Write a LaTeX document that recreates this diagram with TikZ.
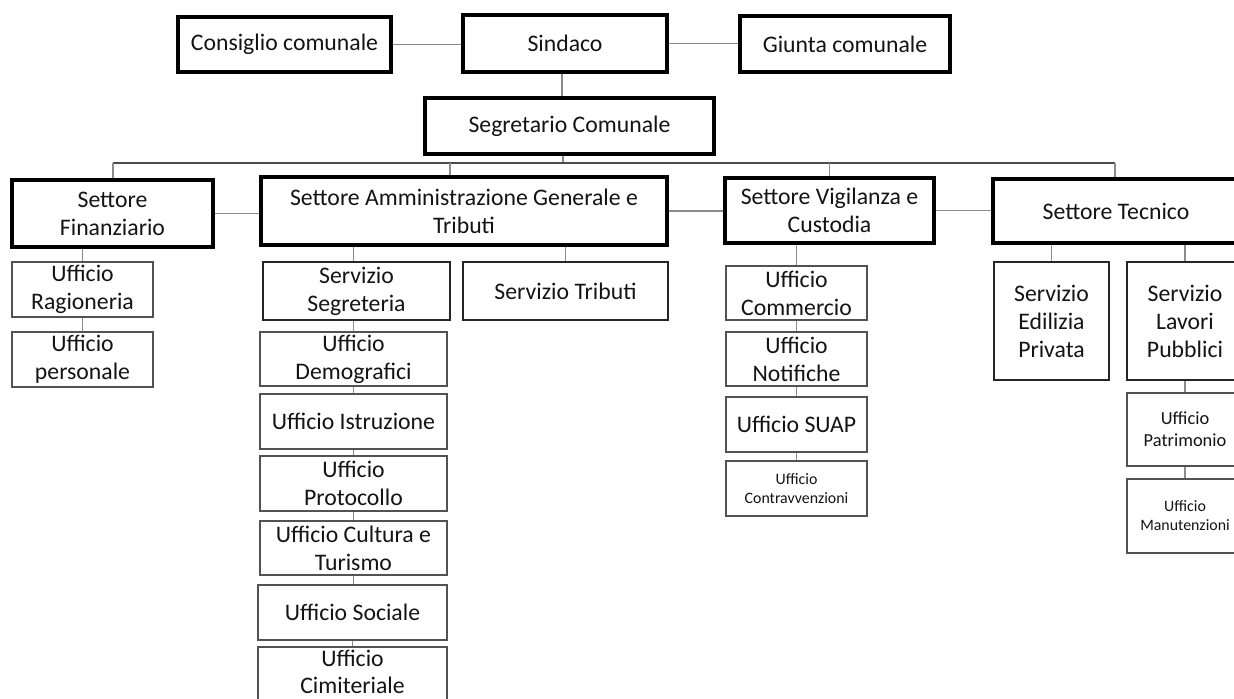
\documentclass[tikz,border=0pt]{standalone}
\usepackage{fontspec}
\setmainfont{Carlito}
\tikzset{
  box/.style={rectangle, inner sep=0pt, align=center, fill=white, text=black!92,
    font=\fontsize{17.8pt}{21pt}\selectfont},
  lvlA/.style={box, draw=black, line width=2.5pt},
  lvlB/.style={box, draw=black!85, line width=1.6pt},
  lvlC/.style={box, draw=black!68, line width=1.2pt},
  plain/.style={rectangle, inner sep=0pt, align=center, text=black!92,
    font=\fontsize{17.8pt}{20.5pt}\selectfont},
  fmed/.style={font=\fontsize{13.8pt}{16.3pt}\selectfont},
  fsmall/.style={font=\fontsize{11.9pt}{14.3pt}\selectfont},
  conn/.style={draw=black!45, line width=1.1pt},
  busline/.style={draw=black!70, line width=1.1pt},
}
\newcommand{\orgbox}[7]{\node[#6, minimum width={(#4-#2)*0.75pt}, minimum height={(#5-#3)*0.75pt}] (#1) at ({(#2+#4)/2},{(#3+#5)/2}) {#7};}
\begin{document}
\begin{tikzpicture}[x=0.75pt,y=-0.75pt]
\useasboundingbox (0,0) rectangle (1234,699);
\clip (0,0) rectangle (1234,699);
% top level
\orgbox{cons}{178}{17}{391}{72}{lvlA}{Consiglio comunale}
\orgbox{sind}{463}{15}{667}{72}{lvlA}{Sindaco}
\orgbox{giun}{740}{16}{950}{72}{lvlA}{Giunta comunale}
\orgbox{segr}{425}{98}{714}{154}{lvlA}{Segretario Comunale}
% settori
\orgbox{fin}{12}{180}{213}{247}{lvlA}{Settore\\Finanziario}
\orgbox{amm}{261}{177}{667}{245}{lvlA}{Settore Amministrazione Generale e\\Tributi}
\orgbox{vig}{725}{178}{934}{243}{lvlA}{Settore Vigilanza e\\Custodia}
\orgbox{tec}{993}{179}{1239}{243}{lvlA}{Settore Tecnico}
% finanziario
\orgbox{rag}{12}{262}{153}{317}{lvlC}{Ufficio\\Ragioneria}
\orgbox{pers}{12}{332}{153}{387}{lvlC}{Ufficio\\personale}
% amministrazione
\orgbox{sseg}{263}{262}{450}{320}{lvlB}{Servizio\\Segreteria}
\orgbox{strib}{463}{262}{668}{320}{lvlB}{Servizio Tributi}
\orgbox{dem}{260}{332}{447}{386}{lvlC}{Ufficio\\Demografici}
\orgbox{istr}{260}{394}{447}{449}{lvlC}{Ufficio Istruzione}
\orgbox{prot}{260}{456}{447}{511}{lvlC}{Ufficio\\Protocollo}
\orgbox{cult}{260}{521}{447}{575}{lvlC}{Ufficio Cultura e\\Turismo}
\orgbox{soc}{258}{585}{447}{640}{lvlC}{Ufficio Sociale}
\orgbox{cim}{258}{647}{447}{704}{lvlC}{}
\node[plain] (cimtext) at (352.5,672) {Ufficio\\Cimiteriale};
% vigilanza
\orgbox{comm}{726}{266}{867}{320}{lvlC}{Ufficio\\Commercio}
\orgbox{notif}{726}{332}{867}{386}{lvlC}{Ufficio\\Notifiche}
\orgbox{suap}{726}{397}{867}{452}{lvlC}{Ufficio SUAP}
\orgbox{contr}{726}{461}{867}{516}{lvlC,fsmall}{Ufficio\\Contravvenzioni}
% tecnico
\orgbox{edil}{994}{262}{1109}{380}{lvlB}{Servizio\\Edilizia\\Privata}
\orgbox{lav}{1127}{262}{1243}{380}{lvlB}{Servizio\\Lavori\\Pubblici}
\orgbox{patr}{1127}{393}{1243}{466}{lvlC,fmed}{Ufficio\\Patrimonio}
\orgbox{man}{1127}{479}{1243}{553}{lvlC,fsmall}{Ufficio\\Manutenzioni}
% connectors
\draw[conn] (cons.east) -- (cons.east -| sind.west);
\draw[conn] (sind.east) -- (sind.east -| giun.west);
\draw[conn] ([xshift=-2.25pt]sind.south) -- ([xshift=-2.25pt]sind.south |- segr.north);
\coordinate (busL) at (113,163);
\coordinate (busM) at (563,163);
\coordinate (busA) at (450,163);
\coordinate (busR) at (1115,163);
\draw[conn] (segr.south -| busM) -- (busM);
\draw[busline] (busL) -- (busR);
\draw[conn] (busL) -- (busL |- fin.north);
\draw[conn] (busA) -- (busA |- amm.north);
\draw[conn] (vig.north |- busL) -- (vig.north);
\draw[conn] (busR) -- (busR |- tec.north);
\draw[conn] (fin.east) -- (fin.east -| amm.west);
\draw[conn] (amm.east) -- (amm.east -| vig.west);
\draw[conn] (vig.east) -- (vig.east -| tec.west);
\draw[conn] (rag.north) -- (rag.north |- fin.south);
\draw[conn] (rag.south) -- (pers.north);
\draw[conn] (amm.south -| dem.north) -- (sseg.north -| dem.north);
\draw[conn] (sseg.south -| dem.north) -- (dem.north);
\draw[conn] (dem.south) -- (istr.north);
\draw[conn] (istr.south) -- (prot.north);
\draw[conn] (prot.south) -- (cult.north);
\draw[conn] (cult.south) -- (cult.south |- soc.north);
\draw[conn] (soc.south) -- (soc.south |- cim.north);
\draw[conn] (strib.north) -- (strib.north |- amm.south);
\draw[conn] (comm.north) -- (comm.north |- vig.south);
\draw[conn] (comm.south) -- (notif.north);
\draw[conn] (notif.south) -- (suap.north);
\draw[conn] (suap.south) -- (contr.north);
\draw[conn] (edil.north) -- (edil.north |- tec.south);
\draw[conn] (lav.north) -- (lav.north |- tec.south);
\draw[conn] (lav.south) -- (patr.north);
\draw[conn] (patr.south) -- (man.north);
\end{tikzpicture}
\end{document}
